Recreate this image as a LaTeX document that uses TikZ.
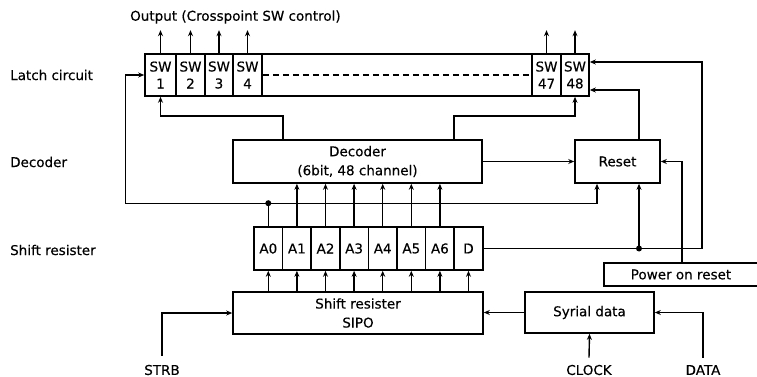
\documentclass[tikz,border=0pt]{standalone}
\usepackage{fontspec}
\setmainfont[FakeBold=0.35]{DejaVu Sans}
\usetikzlibrary{arrows.meta}
\begin{document}
\begin{tikzpicture}[x=1pt,y=-1pt,
  box/.style={draw,line width=1.6pt,inner sep=0pt,align=center,font=\fontsize{13.5}{19}\selectfont},
  cell/.style={box,font=\fontsize{13.5}{17}\selectfont},
  lbl/.style={inner sep=0pt,font=\fontsize{13.5}{16}\selectfont},
  ln/.style={line width=1.4pt},
  arr/.style={ln,-{Stealth[length=6pt,width=5pt]}},
  dot/.style={circle,fill,inner sep=0pt,minimum size=6pt}]
\useasboundingbox (0,0) rectangle (757,377);

% left labels
\node[lbl,anchor=west] (llatch) at (10,75) {Latch circuit};
\node[lbl,anchor=west] (ldec) at (10,162) {Decoder};
\node[lbl,anchor=west] (lshift) at (10,250) {Shift resister};
\node[lbl,anchor=west] (lout) at (130,17) {Output (Crosspoint SW control)};

% latch
\node[box,minimum width=444pt,minimum height=42pt] (latch) at (367,75) {};
\node[cell,minimum width=31pt,minimum height=42pt] (sw1) at (160.5,75) {SW\\1};
\node[cell,minimum width=29pt,minimum height=42pt] (sw2) at (190.5,75) {SW\\2};
\node[cell,minimum width=28pt,minimum height=42pt] (sw3) at (219,75) {SW\\3};
\node[cell,minimum width=29pt,minimum height=42pt] (sw4) at (247.5,75) {SW\\4};
\node[cell,minimum width=29pt,minimum height=42pt] (sw47) at (546.5,75) {SW\\47};
\node[cell,minimum width=28pt,minimum height=42pt] (sw48) at (575,75) {SW\\48};
\draw[ln,dash pattern=on 6pt off 4pt] (sw4.east) -- (sw47.west);
\foreach \n in {sw1,sw2,sw3,sw4,sw47,sw48} \draw[arr] (\n.north) -- ++(0,-23);

% decoder and reset
\node[box,minimum width=249pt,minimum height=43pt] (dec) at (357.5,161.5) {Decoder\\(6bit, 48 channel)};
\node[box,minimum width=85pt,minimum height=43pt] (reset) at (617.5,161.5) {Reset};
\node[box,minimum width=154pt,minimum height=23pt] (por) at (681,274.5) {Power on reset};

% shift register cells
\foreach \t [count=\i from 0] in {A0,A1,A2,A3,A4,A5,A6,D}
  \node[cell,minimum width=28.6pt,minimum height=43pt] (c\i) at ({254+28.6*(\i+0.5)},248.5) {\t};

\node[box,minimum width=250pt,minimum height=42pt] (sipo) at (358,313) {Shift resister\\SIPO};
\node[box,minimum width=129pt,minimum height=41pt] (syr) at (589.5,312.5) {Syrial data};

\node[lbl] (strb) at (162,370) {STRB};
\node[lbl] (clock) at (589,370) {CLOCK};
\node[lbl] (data) at (703,370) {DATA};

% connections
\foreach \i in {0,...,7} \draw[arr] (c\i.south |- sipo.north) -- (c\i.south);
\foreach \i in {1,...,6} \draw[arr] (c\i.north) -- (c\i.north |- dec.south);

\path (c0.north) ++(0,-23) coordinate (j1);
\draw[ln] (c0.north) -- (j1);
\draw[arr] (j1) -- ++(-143,0) |- (sw1.west);
\draw[arr] (j1) -| ([xshift=-20.5pt]reset.south);
\node[dot] at (j1) {};

\draw[arr] ([xshift=-74.5pt]dec.north) -- ++(0,-23) -| (sw1.south);
\draw[arr] ([xshift=96.5pt]dec.north) -- ++(0,-23) -| (sw48.south);
\draw[arr] (dec.east) -- (reset.west);
\draw[arr] ([xshift=21.5pt]reset.north) |- ([yshift=-15pt]latch.east);

\coordinate (j2) at (639,248.5);
\coordinate (k) at (702,248.5);
\draw[arr] (c7.east) -- (k) |- ([yshift=13pt]latch.east);
\draw[arr] (j2) -- (j2 |- reset.south);
\node[dot] at (j2) {};

\draw[arr] ([xshift=1pt]por.north) |- (reset.east);

\draw[arr] (syr.west) -- (syr.west -| sipo.east);
\draw[arr] ([yshift=9pt]strb.north) |- (sipo.west);
\draw[arr] ([yshift=7pt]clock.north) -- (syr.south);
\draw[arr] ([yshift=7pt]data.north) |- (syr.east);
\end{tikzpicture}
\end{document}
